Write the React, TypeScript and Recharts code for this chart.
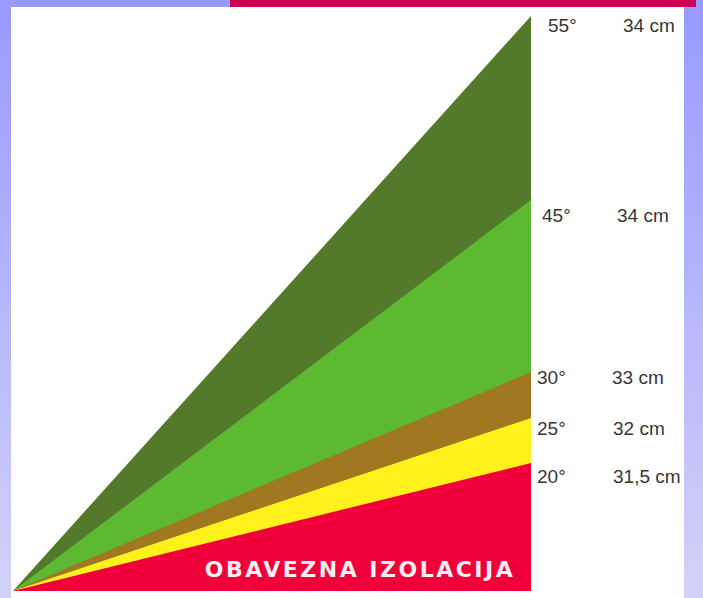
import { AreaChart, Area, XAxis, YAxis } from "recharts";

// roof wall: apex (0) to the wall (1)
const positions = [0, 1];

// height of each layer at the wall (px above the ground line)
const layerHeights = [575, 391, 219, 173, 128];
const pitchLabels = ["55°", "45°", "30°", "25°", "20°"];
const thicknessLabels = ["34 cm", "34 cm", "33 cm", "32 cm", "31,5 cm"];
const layerColors = ["#537a2a", "#5db832", "#a07822", "#fff21c", "#f0003a"];

// label nudges (layout only)
const labelDy = [9, 15, 5, 10, 13];
const pitchDx = [17, 11, 6, 6, 6];
const cmDx = [92, 86, 81, 82, 82];

const data = positions.map((x) => {
  const row: Record<string, number> = { x };
  layerHeights.forEach((h, i) => {
    row["s" + i] = x * h;
  });
  return row;
});

const textStyle = {
  fontFamily: "'Liberation Sans', Arial, sans-serif",
  fontSize: 19,
  fill: "#363636",
};

function makeLabel(i: number) {
  return (props: any) => {
    const { x, y, index } = props;
    if (index !== 1) return null;
    return (
      <g key={"lbl" + i}>
        <text x={x + pitchDx[i]} y={y + labelDy[i]} dominantBaseline="central" {...textStyle}>
          {pitchLabels[i]}
        </text>
        <text x={x + cmDx[i]} y={y + labelDy[i]} dominantBaseline="central" {...textStyle}>
          {thicknessLabels[i]}
        </text>
      </g>
    );
  };
}

export default function App() {
  const side = "linear-gradient(to bottom, #9999ff, #d2d2f8)";
  return (
    <div style={{ position: "fixed", left: 0, top: 0, width: 703, height: 598, background: side, overflow: "hidden" }}>
      <div style={{ position: "absolute", left: 230, top: 0, width: 466, height: 7, background: "#cc0055" }} />
      <div style={{ position: "absolute", left: 11, top: 7, width: 673, height: 591, background: "#ffffff" }} />
      <div style={{ position: "absolute", left: 0, top: 0 }}>
        <AreaChart width={703} height={598} data={data} margin={{ top: 16, right: 172, bottom: 7, left: 13 }}>
          <XAxis dataKey="x" type="number" domain={[0, 1]} hide />
          <YAxis type="number" domain={[0, 575]} hide />
          {layerHeights.map((_, i) => (
            <Area
              key={i}
              type="linear"
              dataKey={"s" + i}
              stroke="none"
              fill={layerColors[i]}
              fillOpacity={1}
              isAnimationActive={false}
              label={makeLabel(i)}
              dot={false}
              activeDot={false}
            />
          ))}
        </AreaChart>
      </div>
      <div
        style={{
          position: "absolute",
          left: 204,
          top: 557,
          width: 312,
          textAlign: "center",
          fontFamily: "'DejaVu Sans', sans-serif",
          fontWeight: "bold",
          fontSize: 22,
          letterSpacing: 2.5,
          color: "#fdeef0",
          whiteSpace: "nowrap",
          lineHeight: "26px",
        }}
      >
        OBAVEZNA IZOLACIJA
      </div>
    </div>
  );
}
